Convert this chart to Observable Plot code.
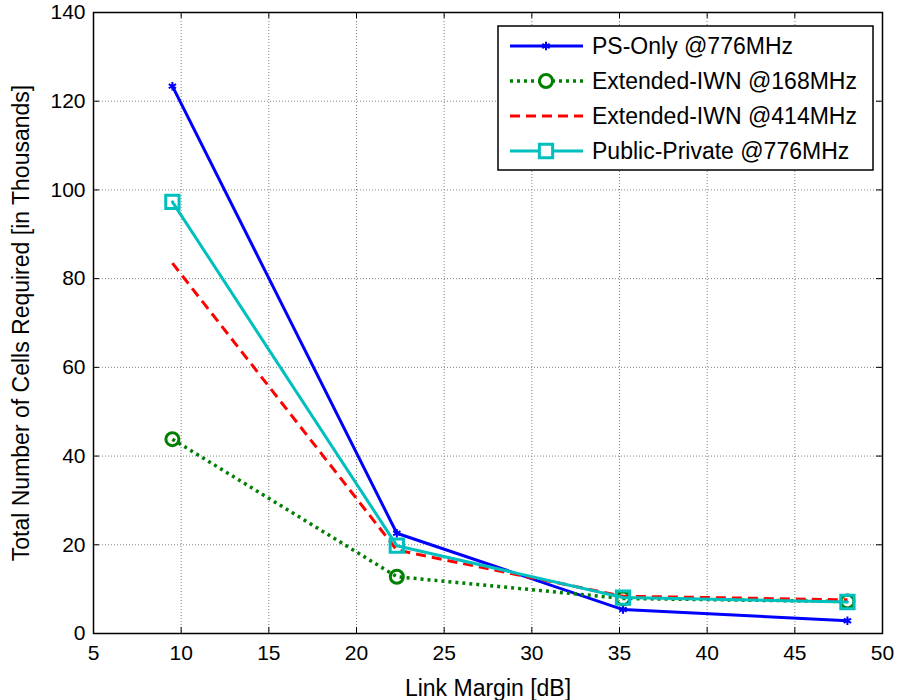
<!DOCTYPE html>
<html>
<head>
<meta charset="utf-8">
<script src="https://cdn.jsdelivr.net/npm/d3@7"></script>
<script src="https://cdn.jsdelivr.net/npm/@observablehq/plot@0.6"></script>
<style>
  html, body { margin: 0; padding: 0; background: #fff; }
  #wrap { position: relative; width: 898px; height: 700px; font-family: "Liberation Sans", Arial, sans-serif; }
  #legend { position: absolute; left: 497px; top: 25px; }
  #wrap svg g[aria-label="x-axis tick label"], #wrap svg g[aria-label="y-axis tick label"] { font-size: 21px; }
</style>
</head>
<body>
<div id="wrap"></div>
<script>
// ---- data ----
const linkMargin = [9.5, 22.3, 35.2, 48.0];
const psOnly776 = [123.4, 22.6, 5.4, 2.9];
const extIWN168 = [43.8, 12.8, 7.9, 7.2];
const extIWN414 = [83.5, 18.8, 8.4, 7.6];
const publicPrivate776 = [97.3, 19.8, 8.1, 7.1];

const seriesNames = ["PS-Only @776MHz", "Extended-IWN @168MHz", "Extended-IWN @414MHz", "Public-Private @776MHz"];
const seriesValues = [psOnly776, extIWN168, extIWN414, publicPrivate776];
const seriesColors = ["#0000ff", "#008000", "#ff0000", "#00bfbf"];
const seriesDash = [null, "3,4", "10,6", null];
const seriesSymbol = ["asterisk", "circle", null, "square"];
const seriesR = [4, 6.5, 0, 7.5];
const seriesWidth = [3, 3.5, 3, 3];

const xTicks = [5, 10, 15, 20, 25, 30, 35, 40, 45, 50];
const yTicks = [0, 20, 40, 60, 80, 100, 120, 140];

const rows = seriesNames.map((name, i) => linkMargin.map((x, j) => ({x, y: seriesValues[i][j], name, i})));

const W = 898, H = 700;
const mL = 93, mR = 16, mT = 12, mB = 67;
const innerH = H - mT - mB, innerW = W - mL - mR;
const font = "Liberation Sans, Arial, sans-serif";

const marks = [
  Plot.gridX(xTicks, {stroke: "#808080", strokeOpacity: 1, strokeDasharray: "1,2"}),
  Plot.gridY(yTicks, {stroke: "#808080", strokeOpacity: 1, strokeDasharray: "1,2"}),
  // inward ticks on all four sides
  Plot.tickX(xTicks, {x: d => d, insetTop: innerH - 6, stroke: "#000"}),
  Plot.tickX(xTicks, {x: d => d, insetBottom: innerH - 6, stroke: "#000"}),
  Plot.tickY(yTicks, {y: d => d, insetRight: innerW - 6, stroke: "#000"}),
  Plot.tickY(yTicks, {y: d => d, insetLeft: innerW - 6, stroke: "#000"}),
  Plot.axisX(xTicks, {tickSize: 0, tickPadding: 12, fontSize: 21, label: null}),
  Plot.axisY(yTicks, {tickSize: 0, tickPadding: 8, fontSize: 21, label: null}),
  Plot.frame({stroke: "#000", strokeWidth: 1.5})
];
rows.forEach((data, i) => {
  marks.push(Plot.line(data, {x: "x", y: "y", stroke: seriesColors[i], strokeWidth: seriesWidth[i],
    strokeDasharray: seriesDash[i], strokeLinecap: seriesDash[i] ? "butt" : "round"}));
  if (seriesSymbol[i]) {
    marks.push(Plot.dot(data, {x: "x", y: "y", symbol: seriesSymbol[i], r: seriesR[i], stroke: seriesColors[i],
      strokeWidth: i === 0 ? 2 : 3, fill: "none"}));
  }
});
marks.push(Plot.text(["Link Margin [dB]"], {frameAnchor: "bottom", lineAnchor: "bottom", textAnchor: "middle", dy: 62, fontSize: 23}));
marks.push(Plot.text(["Total Number of Cells Required [in Thousands]"], {frameAnchor: "left", textAnchor: "middle", lineAnchor: "middle", dx: -72, rotate: -90, fontSize: 23}));

const chart = Plot.plot({
  width: W, height: H,
  marginLeft: mL, marginRight: mR, marginTop: mT, marginBottom: mB,
  style: {fontFamily: font, fontSize: "21px", color: "#000", background: "#fff"},
  x: {domain: [5, 50]},
  y: {domain: [0, 140]},
  marks
});
document.getElementById("wrap").appendChild(chart);
d3.select(chart).selectAll('g[aria-label="x-axis tick label"], g[aria-label="y-axis tick label"]')
  .attr("font-size", 21).style("font-size", "21px");

// ---- legend (inside the axes, top-right) ----
const lw = 376, lh = 145;
const leg = d3.select("#wrap").append("svg").attr("id", "legend").attr("width", lw + 2).attr("height", lh + 2);
leg.append("rect").attr("x", 1).attr("y", 1).attr("width", lw - 1).attr("height", lh - 1)
  .attr("fill", "#fff").attr("stroke", "#000").attr("stroke-width", 1.5);
const symMap = {asterisk: d3.symbolAsterisk, circle: d3.symbolCircle, square: d3.symbolSquare};
seriesNames.forEach((name, i) => {
  const cy = 21 + i * 35;
  const g = leg.append("g");
  g.append("line").attr("x1", 13).attr("x2", 86).attr("y1", cy).attr("y2", cy)
    .attr("stroke", seriesColors[i]).attr("stroke-width", seriesWidth[i])
    .attr("stroke-dasharray", seriesDash[i]);
  if (seriesSymbol[i]) {
    g.append("path").attr("transform", `translate(49,${cy})`)
      .attr("d", d3.symbol(symMap[seriesSymbol[i]], Math.PI * seriesR[i] * seriesR[i])())
      .attr("fill", "#fff").attr("stroke", seriesColors[i]).attr("stroke-width", i === 0 ? 2 : 3);
  }
  g.append("text").attr("x", 95).attr("y", cy).attr("dy", "0.36em")
    .attr("font-family", font).attr("font-size", 23).attr("fill", "#000").text(name);
});
</script>
</body>
</html>
